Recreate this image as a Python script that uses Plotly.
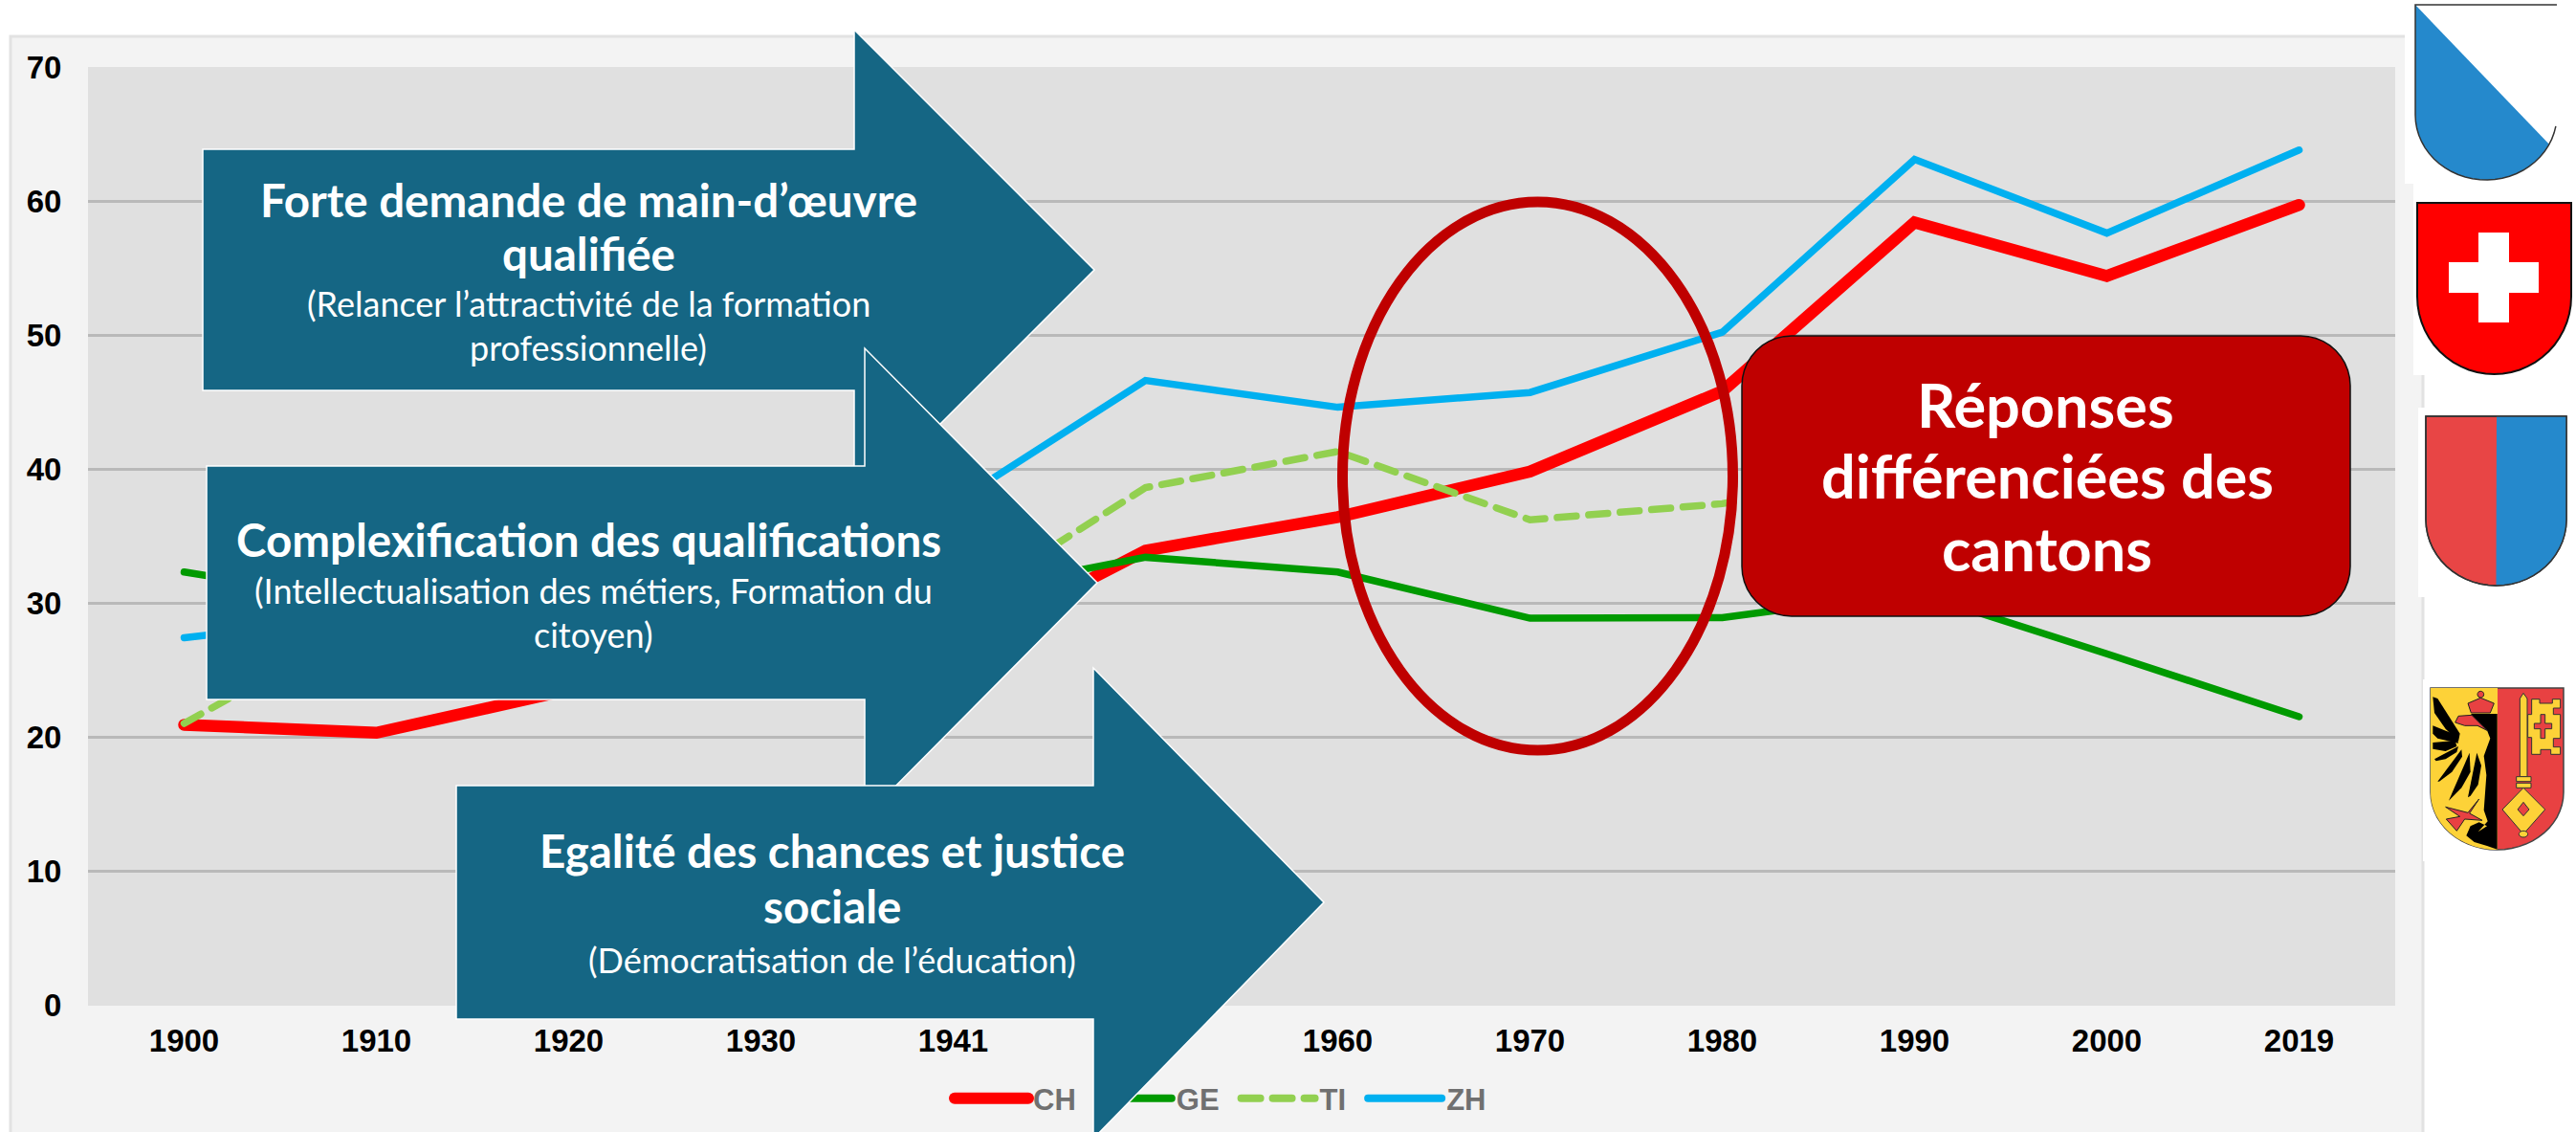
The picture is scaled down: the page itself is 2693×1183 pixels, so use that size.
import math
import plotly.graph_objects as go

W, H = 2693, 1183

years = ["1900", "1910", "1920", "1930", "1941", "1950", "1960", "1970", "1980", "1990", "2000", "2019"]
ch = [20.9, 20.3, 23.5, 25.0, 26.5, 33.9, 36.4, 39.8, 45.8, 58.4, 54.4, 59.7]
ge = [32.3, 30.0, 30.0, 30.2, 30.6, 33.4, 32.3, 28.85, 28.9, 30.8, 26.2, 21.5]
ti = [21.0, 29.0, 30.0, 29.8, 29.5, 38.6, 41.3, 36.2, 37.4, 40.0, 38.0, 40.0]
zh = [27.4, 29.0, 31.0, 34.0, 37.4, 46.6, 44.6, 45.7, 50.2, 63.1, 57.6, 63.8]
y_ticks = [0, 10, 20, 30, 40, 50, 60, 70]

TEAL = "#156684"
DARKRED = "#bf0000"


def px(x):
    return x / W


def py(y):
    return 1 - y / H


def pth(points, close=True):
    s = "M" + " L".join(f"{px(x):.5f},{py(y):.5f}" for x, y in points)
    return s + (" Z" if close else "")


shapes = []


def poly(points, fill, line=None, lw=0, layer="above", close=True):
    shapes.append(dict(type="path", path=pth(points, close), xref="paper", yref="paper",
                       fillcolor=fill, layer=layer,
                       line=dict(color=line or "rgba(0,0,0,0)", width=lw)))


def rect(x0, y0, x1, y1, fill, line=None, lw=0, layer="above"):
    shapes.append(dict(type="rect", xref="paper", yref="paper", x0=px(x0), x1=px(x1),
                       y0=py(y0), y1=py(y1), fillcolor=fill, layer=layer,
                       line=dict(color=line or "rgba(0,0,0,0)", width=lw)))


def arc(cx, cy, a, b, t0, t1, n=28):
    return [(cx + a * math.cos(math.radians(t0 + (t1 - t0) * i / n)),
             cy + b * math.sin(math.radians(t0 + (t1 - t0) * i / n))) for i in range(n + 1)]


def shield(x0, x1, y0, ys, y1):
    xm = (x0 + x1) / 2
    return [(x0, y0), (x1, y0)] + arc(xm, ys, (x1 - x0) / 2, y1 - ys, 0, 180)


# background panel, plot area, white logo backgrounds
rect(11, 38, 2533, 1195, "#f3f3f3", "#e2e2e2", 3, "below")
rect(92, 70, 2504, 1050, "#e0e0e0", None, 0, "below")
rect(2514, 0, 2700, 192, "#ffffff", None, 0, "below")
rect(2523, 192, 2700, 392, "#ffffff", None, 0, "below")
rect(2528, 426, 2700, 624, "#ffffff", None, 0, "below")
rect(2533, 710, 2700, 900, "#ffffff", None, 0, "below")

# arrows
def arrow(x0, xn, tip, top, bot, headtop, headbot):
    mid = (top + bot) / 2
    poly([(x0, top), (xn, top), (xn, headtop), (tip, mid), (xn, headbot), (xn, bot), (x0, bot)],
         TEAL, "#ffffff", 1.5)


arrow(212, 893, 1144, 156, 408, 31, 533)
arrow(216, 904, 1147, 487, 731, 364, 854)
arrow(477, 1143, 1384, 821, 1065, 698, 1190)

# ellipse and box
shapes.append(dict(type="circle", xref="paper", yref="paper", x0=px(1403.5), x1=px(1811.5),
                   y0=py(211), y1=py(784), line=dict(color="#bf0000", width=11), layer="above"))
r = 52
box = arc(1821 + r, 351 + r, r, r, 180, 270, 10) + arc(2457 - r, 351 + r, r, r, 270, 360, 10) + \
    arc(2457 - r, 644 - r, r, r, 0, 90, 10) + arc(1821 + r, 644 - r, r, r, 90, 180, 10)
poly(box, DARKRED, "#111111", 1.5)

# Zurich
zx0, zx1, zy0, zys, zy1 = 2525, 2673, 5, 120, 188
poly(shield(zx0, zx1, zy0, zys, zy1), "#ffffff")
zm = (zx0 + zx1) / 2
poly([(zx0, zy0)] + arc(zm, zys, 74, zy1 - zys, 27, 180), "#2589cc")
poly([(zx1, zy0), (zx0, zy0)] + arc(zm, zys, 74, zy1 - zys, 180, 10), "rgba(0,0,0,0)", "#333333", 1.5, close=False)

# Switzerland
poly(shield(2527, 2688, 212, 310, 391), "#ff0000", "#111111", 2)
rect(2591, 243, 2623, 337, "#ffffff")
rect(2560, 274, 2654, 306, "#ffffff")

# Ticino
poly(shield(2536, 2683, 435, 543, 612), "#e84545", "#333333", 1.5)
poly([(2610, 435), (2683, 435)] + arc(2609.5, 543, 73.5, 69, 0, 90), "#2589cc")
poly([(2536, 435), (2683, 435)] + arc(2609.5, 543, 73.5, 69, 0, 180), "rgba(0,0,0,0)", "#333333", 1.5)

# Geneva
def gz(points):
    return [(2400 + x / 3, 500 + y / 3) for x, y in points]


GY, GR, GK = "#fdd238", "#e84142", "#000000"
poly(shield(2541, 2680, 719, 828, 888), GR, "#444444", 1.5)
poly([(2541, 719), (2611, 719), (2611, 888)] + arc(2610.5, 828, 69.5, 60, 90, 180), GY)
for feather in [
    [(430, 685), (445, 690), (515, 800), (510, 825), (470, 785), (435, 735)],
    [(430, 775), (505, 805), (510, 830), (445, 815), (430, 800)],
    [(430, 828), (500, 822), (505, 840), (470, 855), (430, 848)],
    [(435, 880), (510, 840), (505, 858), (470, 880), (440, 886)],
    [(445, 950), (520, 850), (522, 872), (490, 920), (450, 950)],
    [(480, 1010), (545, 860), (548, 920), (520, 970)],
    [(540, 1000), (568, 860), (582, 900), (572, 960), (548, 995)],
    [(550, 738), (632, 738), (632, 1163), (600, 1152), (560, 1140), (535, 1120), (548, 1090),
     (575, 1078), (600, 1090), (572, 1108), (602, 1075), (590, 1040), (598, 930), (590, 870),
     (610, 815), (600, 790), (560, 770)],
]:
    poly(gz(feather), GK)
poly(gz([(510, 745), (552, 742), (600, 790), (570, 775), (530, 775), (500, 765)]), GR, "#222222", 1)
poly(gz([(575, 1005), (540, 1048), (470, 1030), (515, 1060), (472, 1068), (505, 1105), (530, 1068),
         (585, 1072), (545, 1050)]), GR, "#222222", 1)
poly(gz([(540, 705), (580, 688), (622, 705), (610, 735), (550, 735)]), GR, "#222222", 1)
poly(gz(arc(580, 677, 10, 10, 0, 360, 16)), GR, "#222222", 1)
KEY = dict(fill=GY, line="#333333", lw=1)
poly(gz([(703, 690), (714, 673), (726, 690), (726, 935), (703, 935)]), **KEY)
rect(2400 + 692 / 3, 500 + 935 / 3, 2400 + 738 / 3, 500 + 950 / 3, GY, "#333333", 1)
rect(2400 + 692 / 3, 500 + 955 / 3, 2400 + 738 / 3, 500 + 970 / 3, GY, "#333333", 1)
poly(gz([(714, 970), (782, 1038), (714, 1115), (648, 1038)]), **KEY)
poly(gz([(714, 1015), (732, 1038), (714, 1058), (696, 1038)]), GR, "#333333", 1)
poly(gz(arc(714, 1115, 14, 10, 0, 360, 16)), **KEY)
poly(gz([(740, 692), (765, 692), (765, 705), (805, 705), (805, 692), (830, 692), (830, 720), (808, 720),
         (808, 740), (830, 740), (830, 815), (808, 815), (808, 842), (830, 842), (830, 865), (800, 865),
         (800, 850), (768, 850), (768, 865), (740, 865), (740, 812), (728, 812), (728, 740), (740, 740)]), **KEY)
poly(gz([(768, 740), (782, 740), (782, 768), (803, 768), (803, 785), (782, 785), (782, 815), (768, 815),
         (768, 785), (748, 785), (748, 768), (768, 768)]), GR, "#333333", 1)

TXT = "Lato"
annotations = []


def label(text, x, y, size, bold=True):
    annotations.append(dict(text=f"<b>{text}</b>" if bold else text, x=px(x), y=py(y), xref="paper", yref="paper",
                            xanchor="center", yanchor="middle", showarrow=False,
                            font=dict(family=TXT, size=size, color="#ffffff")))


label("Forte demande de main-d’œuvre", 615, 208, 47.5)
label("qualifiée", 615, 265, 47.5)
label("(Relancer l’attractivité de la formation", 615, 317, 36, False)
label("professionnelle)", 615, 363, 36, False)
label("Complexification des qualifications", 615, 564, 47.5)
label("(Intellectualisation des métiers, Formation du", 620, 617, 36, False)
label("citoyen)", 620, 663, 36, False)
label("Egalité des chances et justice", 870, 888, 47.5)
label("sociale", 870, 946, 47.5)
label("(Démocratisation de l’éducation)", 870, 1003, 36, False)
label("Réponses", 2138, 422, 63)
label("différenciées des", 2140, 496, 63)
label("cantons", 2140, 573, 63)

fig = go.Figure()
for name, vals, color, width, dash in [
    ("CH", ch, "#ff0000", 12.5, "solid"),
    ("GE", ge, "#009a00", 7.5, "solid"),
    ("TI", ti, "#92d050", 7.5, "20px,13px"),
    ("ZH", zh, "#00b0f0", 7.5, "solid"),
]:
    fig.add_trace(go.Scatter(x=years, y=vals, name=name, mode="lines",
                             line=dict(color=color, width=width, dash=dash)))

fig.update_layout(
    width=W, height=H, margin=dict(l=0, r=0, t=0, b=0, pad=0, autoexpand=False),
    paper_bgcolor="#ffffff", plot_bgcolor="rgba(0,0,0,0)",
    shapes=shapes, annotations=annotations,
    showlegend=True,
    legend=dict(orientation="h", x=px(993), y=py(1148), xanchor="left", yanchor="middle",
                itemwidth=77, bgcolor="rgba(0,0,0,0)", borderwidth=0,
                font=dict(family="Liberation Sans", size=31, color="#707070", weight="bold")),
    xaxis=dict(domain=[px(92), px(2504)], type="category", categoryorder="array", categoryarray=years,
               range=[-0.5, 11.5], showgrid=False, zeroline=False, showline=False,
               ticks="outside", ticklen=8, tickcolor="rgba(0,0,0,0)",
               tickfont=dict(family="Liberation Sans", size=33, color="#000000", weight="bold")),
    yaxis=dict(domain=[py(1050), py(70)], range=[0, 70], tickvals=y_ticks, showgrid=True,
               gridcolor="#b9b9b9", gridwidth=3, zeroline=True, zerolinecolor="#e0e0e0", zerolinewidth=1,
               showline=False, ticks="outside", ticklen=20, tickcolor="rgba(0,0,0,0)",
               tickfont=dict(family="Liberation Sans", size=33, color="#000000", weight="bold")),
)

post = """
document.body.style.margin='0';
document.body.style.overflow='hidden';
document.querySelectorAll('.js-line, .legendlines path').forEach(function(e){e.style.strokeLinecap='round';});
var lg=document.querySelector('.legend'), above=document.querySelector('.layer-above');
if(lg&&above){
  above.parentNode.insertBefore(lg, above);
  var sb=lg.querySelector('.scrollbox'); if(sb){sb.removeAttribute('clip-path');}
  var widths=[12,8,8,8];
  lg.querySelectorAll('.traces').forEach(function(t,i){
    t.setAttribute('transform','translate('+(13*i)+',0) '+t.getAttribute('transform'));
    t.querySelectorAll('.legendlines path').forEach(function(p){p.style.strokeWidth=widths[i]+'px';});
  });
}
"""
fig.write_html("out.html", post_script=post, config=dict(displayModeBar=False))
